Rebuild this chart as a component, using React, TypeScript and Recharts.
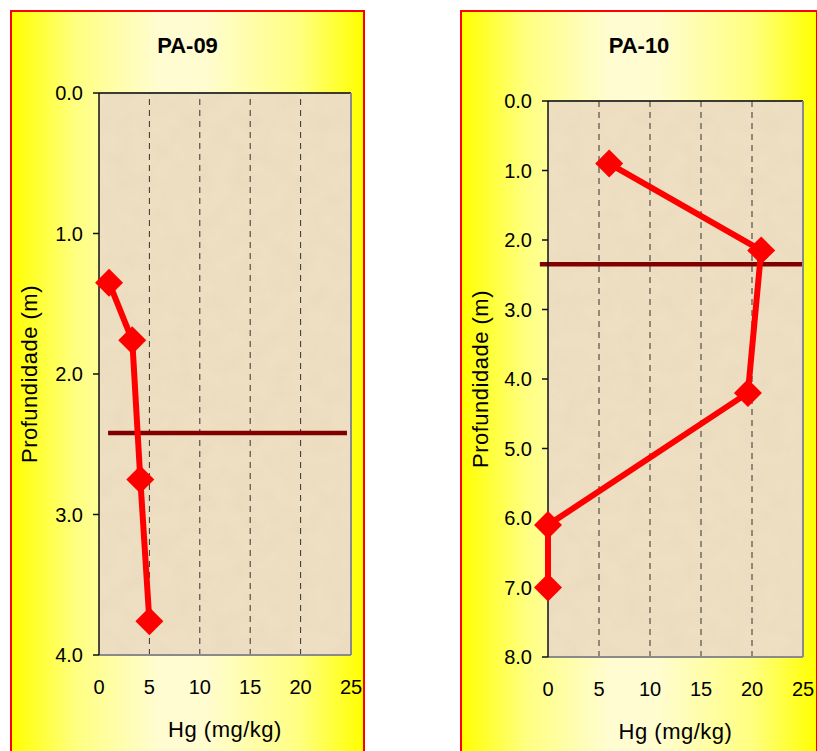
import React from 'react';
import {
  ScatterChart,
  Scatter,
  XAxis,
  YAxis,
  CartesianGrid,
  ReferenceLine,
} from 'recharts';

// Perfil PA-09
const pa09Hg = [1.0, 3.3, 4.1, 5.0];
const pa09Depth = [1.35, 1.76, 2.75, 3.76];
const pa09Water = [0.9, 24.6];
const pa09Level = 2.42;

// Perfil PA-10
const pa10Hg = [6.0, 20.9, 19.6, 0, 0];
const pa10Depth = [0.9, 2.15, 4.2, 6.1, 7.0];
const pa10Water = [-0.8, 25];
const pa10Level = 2.35;

const hgTicks = [0, 5, 10, 15, 20, 25];
const pa09DepthTicks = [0, 1, 2, 3, 4];
const pa10DepthTicks = [0, 1, 2, 3, 4, 5, 6, 7, 8];
const gridX = [5, 10, 15, 20];

const FONT = '"Liberation Sans", Arial, sans-serif';

type Frame = {
  left: number;
  top: number;
  width: number;
  height: number;
  plotLeft: number;
  plotTop: number;
  plotRight: number;
  plotBottom: number;
  labelOffset: number;
};

const Diamond = (props: any) => {
  const { cx, cy } = props;
  if (cx == null || cy == null) return <g />;
  const r = 14;
  return (
    <polygon
      points={`${cx},${cy - r} ${cx + r},${cy} ${cx},${cy + r} ${cx - r},${cy}`}
      fill="#ff0000"
    />
  );
};

const Profile = ({
  title,
  hg,
  depth,
  depthTicks,
  water,
  level,
  frame,
}: {
  title: string;
  hg: number[];
  depth: number[];
  depthTicks: number[];
  water: number[];
  level: number;
  frame: Frame;
}) => {
  const border = 2;
  const cw = frame.width - border * 2;
  const ch = frame.height - border * 2;
  const ox = frame.left + border;
  const oy = frame.top + border;
  const yAxisW = frame.plotLeft - ox;
  const topH = 1;
  const bottomH = 90;
  const rightW = 1;
  const margin = {
    left: 0,
    top: frame.plotTop - oy - topH,
    right: cw - (frame.plotRight - ox) - rightW,
    bottom: ch - (frame.plotBottom - oy) - bottomH,
  };
  const points = hg.map((v, i) => ({ hg: v, depth: depth[i] }));
  const maxDepth = depthTicks[depthTicks.length - 1];
  const tickStyle = { fill: '#000', fontSize: 20, fontFamily: FONT };

  return (
    <div
      style={{
        position: 'absolute',
        left: frame.left,
        top: frame.top,
        width: frame.width,
        height: frame.height,
        boxSizing: 'border-box',
        border: `${border}px solid #ff0000`,
        background:
          'linear-gradient(90deg, #ffff00 0%, #ffff80 18%, #fffcd2 42%, #fffcd0 55%, #ffff80 82%, #ffff00 100%)',
      }}
    >
      <div
        style={{
          position: 'absolute',
          left: 0,
          top: 21,
          width: cw,
          textAlign: 'center',
          fontFamily: FONT,
          fontWeight: 'bold',
          fontSize: 22,
          color: '#000',
        }}
      >
        {title}
      </div>
      <ScatterChart width={cw} height={ch} margin={margin}>
        <CartesianGrid
          vertical={false}
          stroke="#222"
          strokeWidth={1}
          fill="url(#paper)"
          fillOpacity={1}
        />
        {gridX.map((x) => (
          <ReferenceLine
            key={x}
            xAxisId="bottom"
            yAxisId="left"
            x={x}
            stroke="#333"
            strokeDasharray="6 5"
          />
        ))}
        <XAxis
          xAxisId="top"
          orientation="top"
          type="number"
          dataKey="hg"
          domain={[0, 25]}
          ticks={hgTicks}
          height={topH}
          tick={false}
          tickSize={6}
          stroke="#222"
          strokeWidth={1.5}
        />
        <XAxis
          xAxisId="bottom"
          orientation="bottom"
          type="number"
          dataKey="hg"
          domain={[0, 25]}
          ticks={hgTicks}
          height={bottomH}
          tickLine={false}
          tickSize={0}
          tickMargin={25}
          tick={tickStyle}
          stroke="#8a8a8a"
          strokeWidth={2}
          label={{
            value: 'Hg (mg/kg)',
            position: 'insideBottom',
            offset: 8,
            style: { fill: '#000', fontSize: 22, fontFamily: FONT, letterSpacing: 0.5 },
          }}
        />
        <YAxis
          yAxisId="left"
          type="number"
          dataKey="depth"
          domain={[0, maxDepth]}
          ticks={depthTicks}
          reversed
          width={yAxisW}
          tickSize={6}
          tickMargin={10}
          tick={tickStyle}
          tickFormatter={(v: number) => v.toFixed(1)}
          stroke="#111"
          strokeWidth={1.5}
          label={{
            value: 'Profundidade (m)',
            angle: -90,
            position: 'insideLeft',
            offset: frame.labelOffset,
            style: { textAnchor: 'middle', fill: '#000', fontSize: 22, fontFamily: FONT, letterSpacing: 0.5 },
          }}
        />
        <YAxis
          yAxisId="right"
          orientation="right"
          type="number"
          domain={[0, maxDepth]}
          reversed
          width={rightW}
          tick={false}
          tickLine={false}
          stroke="#8a8a8a"
          strokeWidth={2}
        />
        <Scatter
          xAxisId="bottom"
          yAxisId="left"
          data={points}
          line={{ stroke: '#ff0000', strokeWidth: 6 }}
          lineJointType="linear"
          shape={<Diamond />}
          isAnimationActive={false}
        />
        <ReferenceLine
          xAxisId="bottom"
          yAxisId="left"
          segment={[
            { x: water[0], y: level },
            { x: water[1], y: level },
          ]}
          stroke="#800000"
          strokeWidth={4.5}
          ifOverflow="visible"
        />
      </ScatterChart>
    </div>
  );
};

export default function App() {
  return (
    <div>
      <svg width={0} height={0} style={{ position: 'absolute' }}>
        <defs>
          {/* papel envelhecido ao fundo da área de plotagem */}
          <filter id="grain" x="0" y="0" width="100%" height="100%">
            <feTurbulence type="fractalNoise" baseFrequency="0.05" numOctaves={4} seed={7} />
            <feColorMatrix
              type="matrix"
              values="0 0 0 0 0.72  0 0 0 0 0.6  0 0 0 0 0.42  0.35 0 0 0 -0.12"
            />
          </filter>
          <pattern id="paper" patternUnits="userSpaceOnUse" x={0} y={0} width={420} height={760}>
            <rect width={420} height={760} fill="#eedfc2" />
            <rect width={420} height={760} filter="url(#grain)" />
          </pattern>
        </defs>
      </svg>
      <Profile
        title="PA-09"
        hg={pa09Hg}
        depth={pa09Depth}
        depthTicks={pa09DepthTicks}
        water={pa09Water}
        level={pa09Level}
        frame={{
          left: 10,
          top: 10,
          width: 355,
          height: 760,
          plotLeft: 99,
          plotTop: 93,
          plotRight: 351,
          plotBottom: 655,
          labelOffset: 17,
        }}
      />
      <Profile
        title="PA-10"
        hg={pa10Hg}
        depth={pa10Depth}
        depthTicks={pa10DepthTicks}
        water={pa10Water}
        level={pa10Level}
        frame={{
          left: 460,
          top: 10,
          width: 358,
          height: 760,
          plotLeft: 548,
          plotTop: 101,
          plotRight: 803,
          plotBottom: 657,
          labelOffset: 18,
        }}
      />
    </div>
  );
}
